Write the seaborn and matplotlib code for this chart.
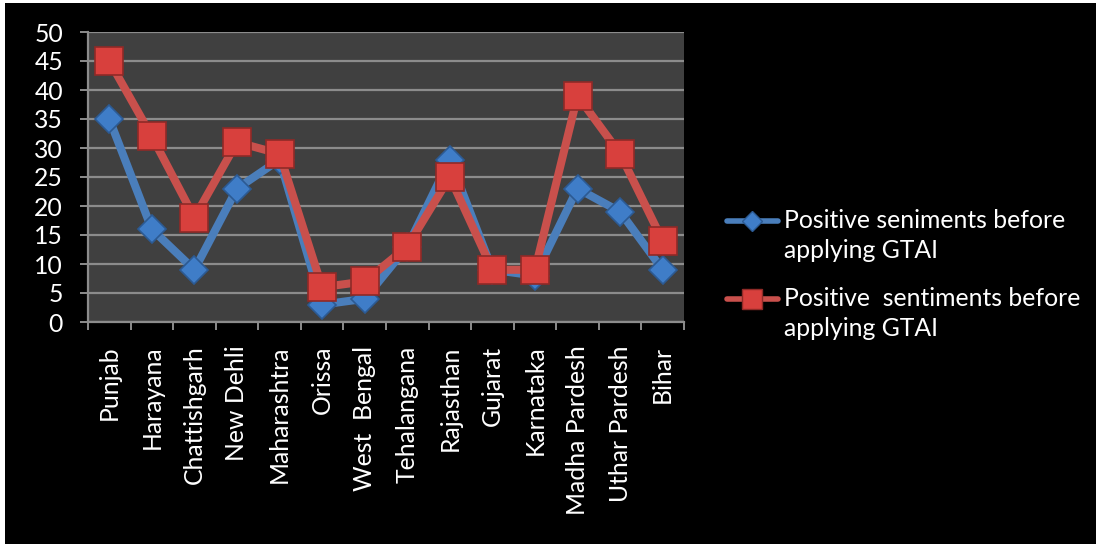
import matplotlib
matplotlib.use("Agg")
import matplotlib.pyplot as plt
import matplotlib.patches as mpatches
from matplotlib.lines import Line2D
from matplotlib.legend_handler import HandlerLine2D
import numpy as np
import seaborn as sns
import pandas as pd

states = ["Punjab", "Harayana", "Chattishgarh", "New Dehli", "Maharashtra",
          "Orissa", "West  Bengal", "Tehalangana", "Rajasthan", "Gujarat",
          "Karnataka", "Madha Pardesh", "Uthar Pardesh", "Bihar"]
series_a = [35, 16, 9, 23, 28, 3, 4, 13, 28, 9, 8, 23, 19, 9]
series_b = [45, 32, 18, 31, 29, 6, 7, 13, 25, 9, 9, 39, 29, 14]
label_a = "Positive seniments before\napplying GTAI"
label_b = "Positive  sentiments before\napplying GTAI"
y_ticks = [0, 5, 10, 15, 20, 25, 30, 35, 40, 45, 50]

sns.set_theme(style="dark")
plt.rcParams["font.family"] = ["Lato", "DejaVu Sans"]

df = pd.concat([
    pd.DataFrame({"state": states, "value": series_a, "series": label_a}),
    pd.DataFrame({"state": states, "value": series_b, "series": label_b}),
])

blue, blue_edge, blue_face = "#4a7ebb", "#2c5a93", "#3f7dc8"
red, red_edge, red_face = "#c9504c", "#8f2a27", "#d8403d"
FS = 17.8


class FirstLineHandler(HandlerLine2D):
    """Place the legend key beside the first line of a two-line label."""

    def create_artists(self, legend, orig_handle, xdescent, ydescent,
                       width, height, fontsize, trans):
        artists = super().create_artists(legend, orig_handle, xdescent,
                                         ydescent, width, height, fontsize,
                                         trans)
        for a in artists:
            a.set_ydata(np.asarray(a.get_ydata()) + 0.63 * fontsize)
        return artists


fig = plt.figure(figsize=(10.96, 5.44), dpi=100, facecolor="white")
# black chart area inside a thin white frame
fig.patches.append(mpatches.Rectangle((5 / 1096, 0), 1, 1 - 3 / 544,
                                      transform=fig.transFigure,
                                      facecolor="black", edgecolor="none",
                                      zorder=-10))
ax = fig.add_axes([88 / 1096, 1 - 322 / 544, (684 - 88) / 1096, (322 - 32) / 544])
ax.set_facecolor("#404040")

sns.lineplot(data=df, x="state", y="value", hue="series", style="series",
             hue_order=[label_a, label_b], style_order=[label_a, label_b],
             palette={label_a: blue, label_b: red},
             markers={label_a: "D", label_b: "s"}, dashes=False,
             sort=False, linewidth=5.8, ax=ax, legend=False, zorder=3)

for line, size, edge, face in zip(ax.lines, (14, 20), (blue_edge, red_edge),
                                  (blue_face, red_face)):
    line.set_markersize(size)
    line.set_markeredgecolor(edge)
    line.set_markerfacecolor(face)
    line.set_markeredgewidth(1.2)
    line.set_solid_capstyle("round")
    line.set_solid_joinstyle("round")

ax.set_xlim(-0.5, len(states) - 0.5)
ax.set_ylim(0, 50)
ax.set_yticks(y_ticks)
ax.set_xticks(range(len(states)))
ax.set_xticklabels(states, rotation=90, va="top", ha="center")
ax.set_xticks([i - 0.5 for i in range(len(states) + 1)], minor=True)

ax.grid(axis="y", color="#8c8c8c", linewidth=1.6)
ax.grid(axis="x", visible=False)
ax.set_axisbelow(True)
for side in ("top", "right"):
    ax.spines[side].set_visible(False)
for side in ("left", "bottom"):
    ax.spines[side].set_visible(True)
    ax.spines[side].set_color("#8c8c8c")
    ax.spines[side].set_linewidth(1.6)

ax.tick_params(axis="y", which="major", length=6, width=1.4, color="#8c8c8c",
               left=True, labelsize=FS, labelcolor="white", pad=12)
ax.tick_params(axis="x", which="major", length=0, labelsize=FS,
               labelcolor="white", pad=17)
ax.tick_params(axis="x", which="minor", length=6, width=1.4, color="#8c8c8c",
               bottom=True)
ax.set_xlabel("")
ax.set_ylabel("")

handles = [
    Line2D([], [], color=blue, linewidth=4, marker="D", markersize=10,
           markerfacecolor=blue_face, markeredgecolor=blue_edge),
    Line2D([], [], color=red, linewidth=4, marker="s", markersize=14,
           markerfacecolor=red_face, markeredgecolor=red_edge),
]
leg = fig.legend(handles, [label_a, label_b], loc="upper left",
                 bbox_to_anchor=(727 / 1096, 1 - 209 / 544),
                 frameon=False, fontsize=FS, labelcolor="white",
                 handlelength=2.05, handletextpad=0.25, labelspacing=1.0,
                 borderpad=0, borderaxespad=0,
                 handler_map={Line2D: FirstLineHandler()})
for t in leg.get_texts():
    t.set_linespacing(1.38)

fig.savefig("out.png", dpi=100, facecolor=fig.get_facecolor())
